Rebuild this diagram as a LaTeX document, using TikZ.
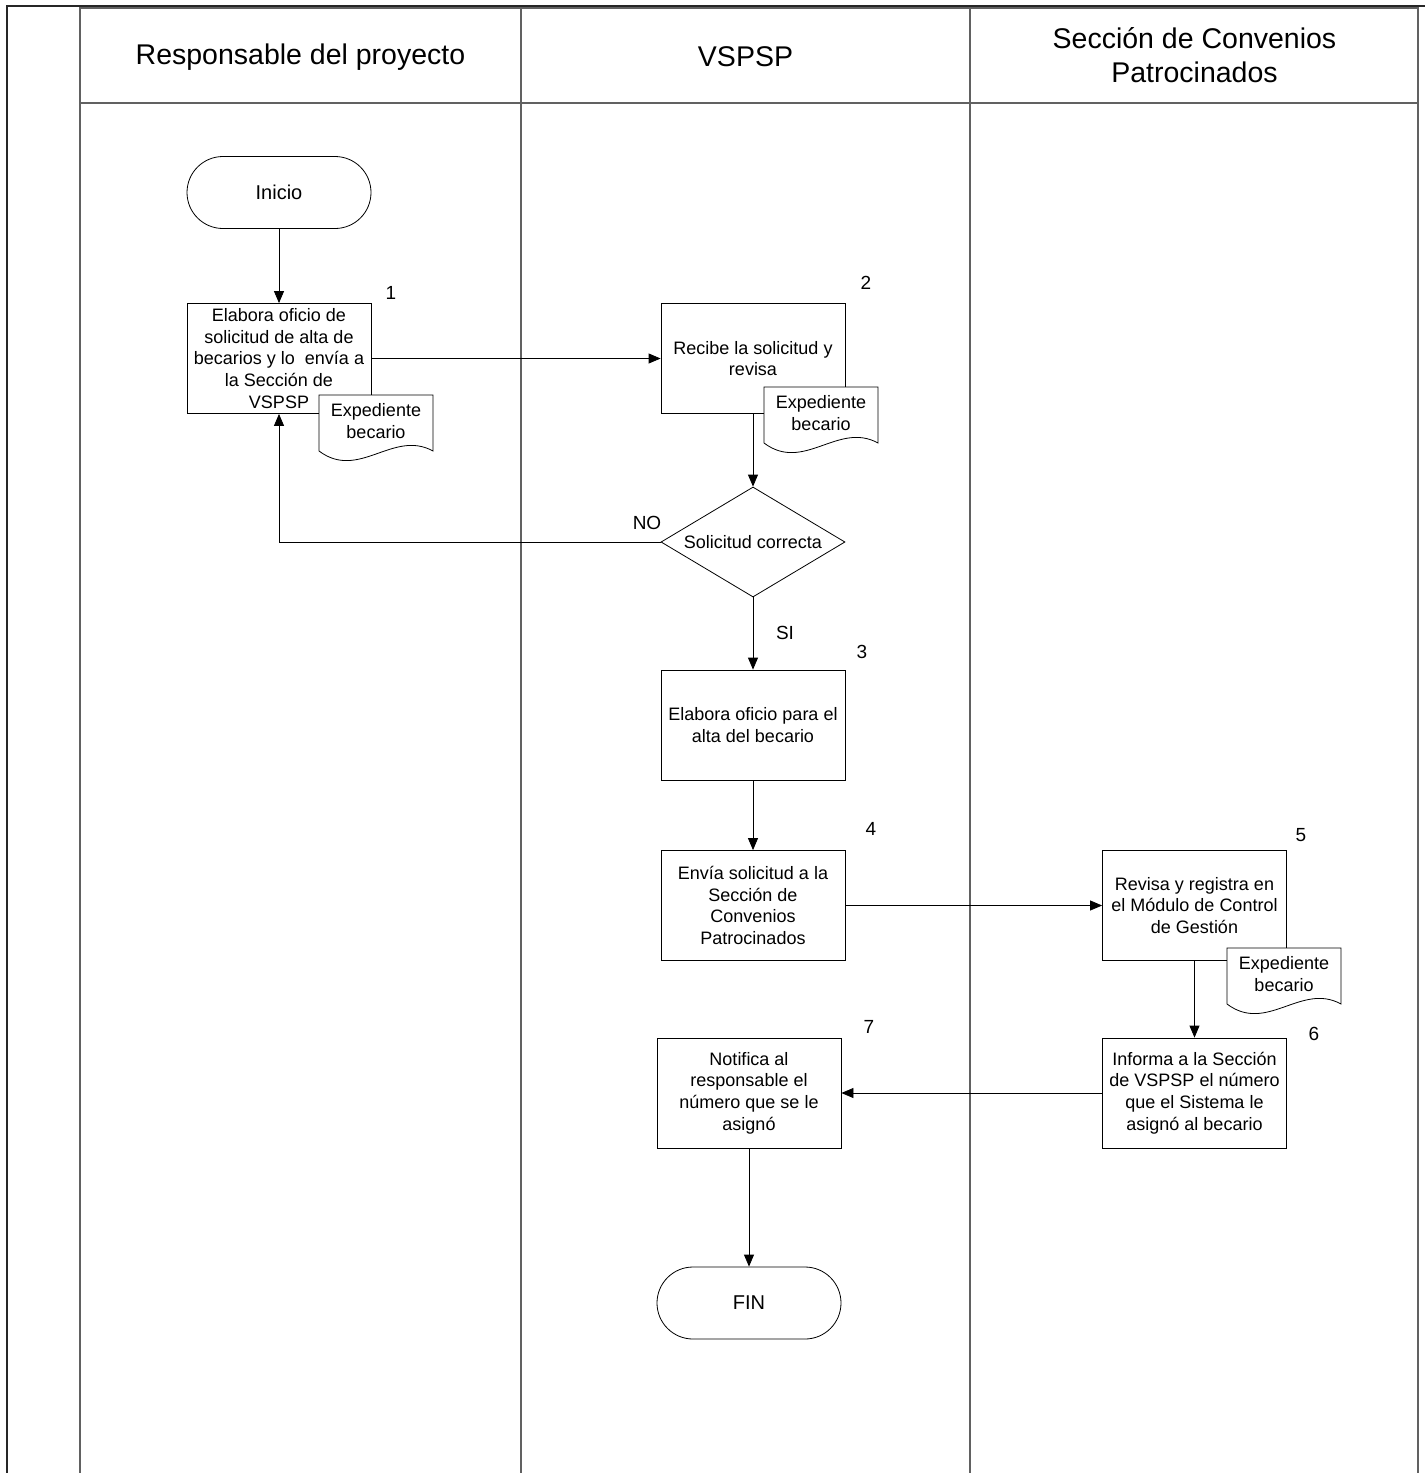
\documentclass[tikz,border=0pt]{standalone}
\usepackage{fontspec}
\setmainfont{Liberation Sans}
\usetikzlibrary{shapes.geometric,arrows.meta,calc}

\tikzset{
  lane/.style={line width=1.6pt, draw=black!62},
  frameline/.style={line width=1.1pt, draw=black!85},
  hdr/.style={font=\fontsize{28.5}{34}\selectfont, align=center, inner sep=0pt},
  txt/.style={font=\fontsize{18}{21.6}\selectfont, align=center, inner sep=0pt},
  proc/.style={txt, draw, line width=0.8pt, minimum width=184pt, minimum height=110pt},
  term/.style={font=\fontsize{20}{24}\selectfont, align=center, inner sep=0pt, draw, line width=0.8pt, minimum width=184pt, minimum height=72pt, rounded corners=36pt},
  decis/.style={diamond, draw, line width=0.8pt, minimum width=184pt, minimum height=110pt, inner sep=0pt},
  num/.style={font=\fontsize{19}{22}\selectfont, inner sep=0pt},
  arr/.style={line width=0.8pt, -{Triangle[length=12pt,width=10pt]}},
  docline/.style={line width=0.8pt, draw, fill=white},
}

% document symbol: #1 name, #2 left x, #3 top y
\newcommand\expdoc[3]{%
  \draw[docline] (#2,#3) -- ++(114,0) -- ++(0,56)
     .. controls ($(#2,#3)+(114*0.65,56-22)$) and ($(#2,#3)+(114*0.35,56+30)$) .. ($(#2,#3)+(0,56)$) -- cycle;
  \node[txt] (#1) at ($(#2,#3)+(57,26)$) {Expediente\\becario};
}

\begin{document}
\begin{tikzpicture}[x=1pt,y=-1pt]
\useasboundingbox (0,0) rectangle (1425,1473);

% outer frame
\draw[frameline] (7,1473) -- (7,6) -- (1425,6);
% lanes
\draw[lane] (80,1473) -- (80,8) -- (1418,8) -- (1418,1473);
\draw[lane] (521,8) -- (521,1473);
\draw[lane] (970,8) -- (970,1473);
\draw[lane, line width=1.2pt] (80,103) -- (1418,103);

% headers
\node[hdr] (h1) at (300.5,57) {Responsable del proyecto};
\node[hdr] (h2) at (745.5,57) {VSPSP};
\node[hdr] (h3) at (1194.5,55) {Sección de Convenios\\Patrocinados};

% nodes
\node[term] (ini) at (279,192.5) {Inicio};
\node[proc] (b1) at (279,358.5) {Elabora oficio de\\solicitud de alta de\\becarios y lo\ \ envía a\\la Sección de\\VSPSP};
\node[proc] (b2) at (753,358.5) {Recibe la solicitud y\\revisa};
\node[decis] (dec) at (753,542) {};
\node[txt] (dect) at (753,542) {Solicitud correcta};
\node[proc] (b3) at (753,725) {Elabora oficio para el\\alta del becario};
\node[proc] (b4) at (753,905.5) {Envía solicitud a la\\Sección de\\Convenios\\Patrocinados};
\node[proc] (b5) at (1194.5,905.5) {Revisa y registra en\\el Módulo de Control\\de Gestión};
\node[proc] (b6) at (1194.5,1093) {Informa a la Sección\\de VSPSP el número\\que el Sistema le\\asignó al becario};
\node[proc] (b7) at (749,1093) {Notifica al\\responsable el\\número que se le\\asignó};
\node[term] (fin) at (749,1303) {FIN};

% documents
\expdoc{d1}{319}{395}
\expdoc{d2}{764}{387}
\expdoc{d5}{1227}{948}

% step numbers
\node[num] (n1) at (391,293) {1};
\node[num] (n2) at (866,283) {2};
\node[num] (n3) at (862,652) {3};
\node[num] (n4) at (871,829) {4};
\node[num] (n5) at (1301,835) {5};
\node[num] (n6) at (1314,1034) {6};
\node[num] (n7) at (869,1027) {7};

% labels
\node[num] (lno) at (647,523) {NO};
\node[num] (lsi) at (785,633) {SI};

% connectors
\draw[arr] (ini) -- (b1);
\draw[arr] (b1) -- (b2);
\draw[arr] (b2) -- (dec);
\draw[arr] (dec.west) -| (b1.south);
\draw[arr] (dec) -- (b3);
\draw[arr] (b3) -- (b4);
\draw[arr] (b4) -- (b5);
\draw[arr] (b5) -- (b6);
\draw[arr] (b6) -- (b7);
\draw[arr] (b7) -- (fin);
\end{tikzpicture}
\end{document}
